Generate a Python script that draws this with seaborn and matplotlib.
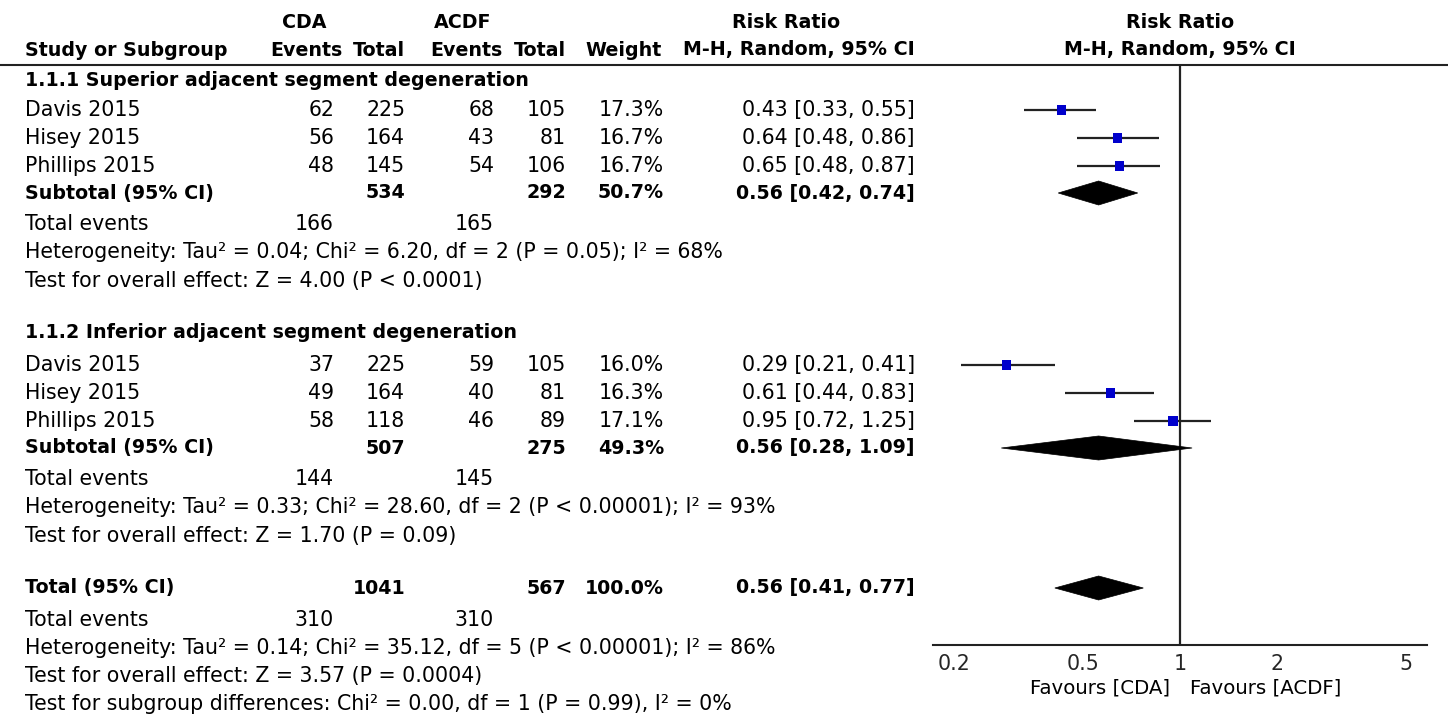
import matplotlib
matplotlib.use("Agg")
import matplotlib.pyplot as plt
from matplotlib.patches import Polygon
import numpy as np
import pandas as pd
import seaborn as sns

# ---- study-level data -------------------------------------------------------
studies = ["Davis 2015", "Hisey 2015", "Phillips 2015",
           "Davis 2015", "Hisey 2015", "Phillips 2015"]
group_of_study = [0, 0, 0, 1, 1, 1]
cda_events = [62, 56, 48, 37, 49, 58]
cda_total = [225, 164, 145, 225, 164, 118]
acdf_events = [68, 43, 54, 59, 40, 46]
acdf_total = [105, 81, 106, 105, 81, 89]
weights = [17.3, 16.7, 16.7, 16.0, 16.3, 17.1]
rr = [0.43, 0.64, 0.65, 0.29, 0.61, 0.95]
rr_lo = [0.33, 0.48, 0.48, 0.21, 0.44, 0.72]
rr_hi = [0.55, 0.86, 0.87, 0.41, 0.83, 1.25]

# ---- subgroup summaries -----------------------------------------------------
group_titles = ["1.1.1 Superior adjacent segment degeneration",
                "1.1.2 Inferior adjacent segment degeneration"]
group_cda_total = [534, 507]
group_acdf_total = [292, 275]
group_weight = [50.7, 49.3]
group_rr = [0.56, 0.56]
group_lo = [0.42, 0.28]
group_hi = [0.74, 1.09]
group_cda_events = [166, 144]
group_acdf_events = [165, 145]
group_het = ["Heterogeneity: Tau² = 0.04; Chi² = 6.20, df = 2 (P = 0.05); I² = 68%",
             "Heterogeneity: Tau² = 0.33; Chi² = 28.60, df = 2 (P < 0.00001); I² = 93%"]
group_effect = ["Test for overall effect: Z = 4.00 (P < 0.0001)",
                "Test for overall effect: Z = 1.70 (P = 0.09)"]

# ---- overall summary --------------------------------------------------------
total_cda_total = 1041
total_acdf_total = 567
total_weight = 100.0
total_rr = 0.56
total_lo = 0.41
total_hi = 0.77
total_cda_events = 310
total_acdf_events = 310
total_het = "Heterogeneity: Tau² = 0.14; Chi² = 35.12, df = 5 (P < 0.00001); I² = 86%"
total_effect = "Test for overall effect: Z = 3.57 (P = 0.0004)"
subgroup_diff = "Test for subgroup differences: Chi² = 0.00, df = 1 (P = 0.99), I² = 0%"

x_ticks = [0.2, 0.5, 1, 2, 5]
x_ticklabels = ["0.2", "0.5", "1", "2", "5"]
favours_left = "Favours [CDA]"
favours_right = "Favours [ACDF]"

# ---- figure setup -----------------------------------------------------------
sns.set_style("white")
plt.rcParams["font.family"] = ["DejaVu Sans"]
FS = 14.8      # regular text
FS_B = 13.7    # bold text
FS_FAV = 14.2  # favours labels

W, H = 1448, 715
fig = plt.figure(figsize=(W / 100, H / 100), dpi=100)

# text layer in pixel coordinates
tab = fig.add_axes([0, 0, 1, 1])
tab.set_xlim(0, W)
tab.set_ylim(H, 0)
tab.axis("off")

# forest panel
AX_L, AX_R, AX_T, AX_B = 933, 1427, 65, 645
ax = fig.add_axes([AX_L / W, 1 - AX_B / H, (AX_R - AX_L) / W, (AX_B - AX_T) / H])
ax.set_ylim(AX_B, AX_T)
ax.set_xscale("log")
xmax = 5.81
ax.set_xlim(1 / xmax, xmax)
ax.patch.set_alpha(0)
for s in ["top", "left", "right"]:
    ax.spines[s].set_visible(False)
ax.spines["bottom"].set_linewidth(1.5)
ax.spines["bottom"].set_color("#222222")
ax.set_yticks([])
ax.set_xticks(x_ticks)
ax.set_xticklabels(x_ticklabels, fontsize=FS)
ax.xaxis.set_minor_locator(matplotlib.ticker.NullLocator())
ax.tick_params(axis="x", direction="inout", length=11, width=1.5, color="#222222", pad=1)
ax.axvline(1, color="#222222", lw=1.6, zorder=1)

# column right edges
C_EV1, C_TOT1, C_EV2, C_TOT2, C_W, C_RR = 334, 405, 494, 566, 664, 915
X_NAME = 25


def txt(x, y, s, ha="left", bold=False, size=None):
    if size is None:
        size = FS_B if bold else FS
    tab.text(x, y, s, ha=ha, va="center", fontsize=size,
             fontweight="bold" if bold else "normal", color="black")


def fmt_ci(m, lo, hi):
    return f"{m:.2f} [{lo:.2f}, {hi:.2f}]"


# headers
HY1, HY2 = 22, 50
txt(304, HY1, "CDA", ha="center", bold=True)
txt(463, HY1, "ACDF", ha="center", bold=True)
txt(786, HY1, "Risk Ratio", ha="center", bold=True)
txt(1180, HY1, "Risk Ratio", ha="center", bold=True)
txt(X_NAME, HY2, "Study or Subgroup", bold=True)
txt(342, HY2, "Events", ha="right", bold=True)
txt(C_TOT1, HY2, "Total", ha="right", bold=True)
txt(503, HY2, "Events", ha="right", bold=True)
txt(C_TOT2, HY2, "Total", ha="right", bold=True)
txt(662, HY2, "Weight", ha="right", bold=True)
txt(C_RR, HY2, "M-H, Random, 95% CI", ha="right", bold=True)
txt(1180, HY2, "M-H, Random, 95% CI", ha="center", bold=True)
tab.plot([0, W], [AX_T, AX_T], color="#222222", lw=1.5)

# row positions for each block
group_title_y = [80, 332]
study_y = [[110, 138, 166], [365, 393, 421]]
subtotal_y = [193, 448]
events_y = [224, 479]
het_y = [252, 507]
effect_y = [281, 536]
TOT_Y, TOT_EV_Y, TOT_HET_Y, TOT_EFF_Y, DIFF_Y = 588, 620, 648, 676, 704
DIAMOND_HALF = 12

rows = []
for g in range(2):
    txt(X_NAME, group_title_y[g], group_titles[g], bold=True)
    idx = [i for i, gg in enumerate(group_of_study) if gg == g]
    for k, i in enumerate(idx):
        y = study_y[g][k]
        txt(X_NAME, y, studies[i])
        txt(C_EV1, y, str(cda_events[i]), ha="right")
        txt(C_TOT1, y, str(cda_total[i]), ha="right")
        txt(C_EV2, y, str(acdf_events[i]), ha="right")
        txt(C_TOT2, y, str(acdf_total[i]), ha="right")
        txt(C_W, y, f"{weights[i]:.1f}%", ha="right")
        txt(C_RR, y, fmt_ci(rr[i], rr_lo[i], rr_hi[i]), ha="right")
        rows.append({"rr": rr[i], "lo": rr_lo[i], "hi": rr_hi[i], "y": y, "w": weights[i]})
    y = subtotal_y[g]
    txt(X_NAME, y, "Subtotal (95% CI)", bold=True)
    txt(C_TOT1, y, str(group_cda_total[g]), ha="right", bold=True)
    txt(C_TOT2, y, str(group_acdf_total[g]), ha="right", bold=True)
    txt(C_W, y, f"{group_weight[g]:.1f}%", ha="right", bold=True)
    txt(C_RR, y, fmt_ci(group_rr[g], group_lo[g], group_hi[g]), ha="right", bold=True)
    ax.add_patch(Polygon([(group_lo[g], y), (group_rr[g], y - DIAMOND_HALF),
                          (group_hi[g], y), (group_rr[g], y + DIAMOND_HALF)],
                         closed=True, facecolor="black", edgecolor="black", lw=0.5, zorder=3))
    txt(X_NAME, events_y[g], "Total events")
    txt(C_EV1, events_y[g], str(group_cda_events[g]), ha="right")
    txt(C_EV2, events_y[g], str(group_acdf_events[g]), ha="right")
    txt(X_NAME, het_y[g], group_het[g])
    txt(X_NAME, effect_y[g], group_effect[g])

# overall
txt(X_NAME, TOT_Y, "Total (95% CI)", bold=True)
txt(C_TOT1, TOT_Y, str(total_cda_total), ha="right", bold=True)
txt(C_TOT2, TOT_Y, str(total_acdf_total), ha="right", bold=True)
txt(C_W, TOT_Y, f"{total_weight:.1f}%", ha="right", bold=True)
txt(C_RR, TOT_Y, fmt_ci(total_rr, total_lo, total_hi), ha="right", bold=True)
ax.add_patch(Polygon([(total_lo, TOT_Y), (total_rr, TOT_Y - DIAMOND_HALF),
                      (total_hi, TOT_Y), (total_rr, TOT_Y + DIAMOND_HALF)],
                     closed=True, facecolor="black", edgecolor="black", lw=0.5, zorder=3))
txt(X_NAME, TOT_EV_Y, "Total events")
txt(C_EV1, TOT_EV_Y, str(total_cda_events), ha="right")
txt(C_EV2, TOT_EV_Y, str(total_acdf_events), ha="right")
txt(X_NAME, TOT_HET_Y, total_het)
txt(X_NAME, TOT_EFF_Y, total_effect)
txt(X_NAME, DIFF_Y, subgroup_diff)

# study CIs and weighted squares
df = pd.DataFrame(rows)
ax.hlines(df["y"], df["lo"], df["hi"], color="#222222", lw=1.6, zorder=2)
sns.scatterplot(data=df, x="rr", y="y", marker="s", s=df["w"] * 2.9,
                color="#0000CC", edgecolor="none", linewidth=0, ax=ax,
                legend=False, zorder=4)
ax.set_xlabel("")
ax.set_ylabel("")

# favours labels
txt(1170, 688, favours_left, ha="right", size=FS_FAV)
txt(1190, 688, favours_right, ha="left", size=FS_FAV)

fig.savefig("out.png", dpi=100)
